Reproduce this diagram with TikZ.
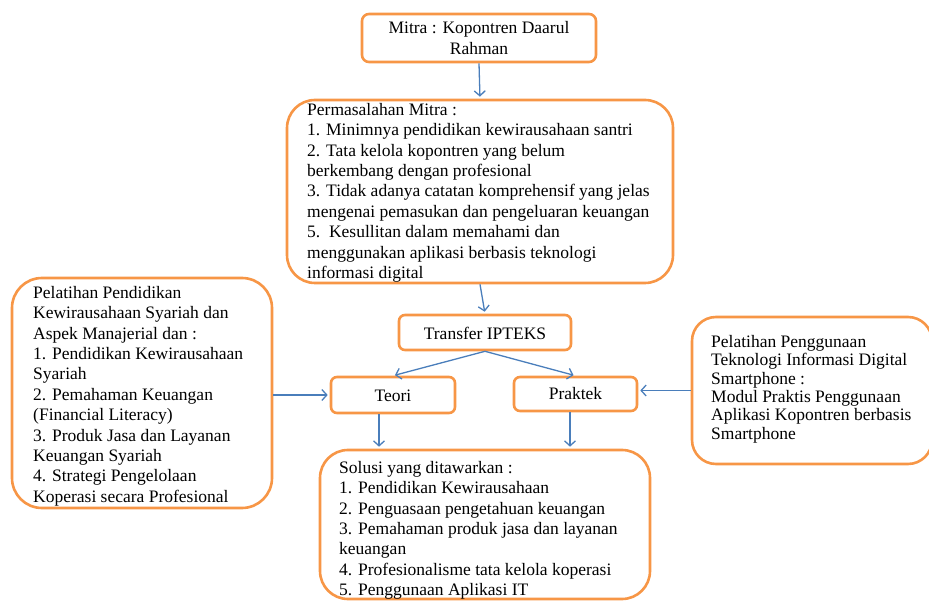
\documentclass[tikz,border=0pt]{standalone}
\usepackage{fontspec}
\setmainfont{Liberation Serif}
\usetikzlibrary{arrows.meta}
\definecolor{boxorange}{RGB}{247,150,70}
\definecolor{arrowblue}{RGB}{74,126,187}
\begin{document}
\begin{tikzpicture}[x=1pt,y=-1pt,
  obox/.style={draw=boxorange, line width=2.6pt, fill=white, inner sep=0pt},
  txt/.style={inner sep=0pt, align=left, anchor=north west, font=\fontsize{17.5}{20.4}\selectfont},
  ctxt/.style={inner sep=0pt, align=center, font=\fontsize{17.5}{20.4}\selectfont},
  arr/.style={draw=arrowblue, line width=1.3pt, -{Straight Barb[length=5pt,width=11pt]}, shorten >=2pt}]
\useasboundingbox (0,0) rectangle (929,601);
% boxes
\node[obox, rounded corners=7pt, minimum width=234pt, minimum height=48pt] (mitra) at (479,38) {};
\node[obox, rounded corners=28pt, minimum width=386pt, minimum height=183pt] (perm) at (480,191.5) {};
\node[obox, rounded corners=6pt, minimum width=172pt, minimum height=35pt] (transfer) at (485,332.5) {};
\node[obox, rounded corners=6pt, minimum width=124pt, minimum height=36pt] (teori) at (393,395) {};
\node[obox, rounded corners=6pt, minimum width=123pt, minimum height=34pt] (praktek) at (575.5,394) {};
\node[obox, rounded corners=28pt, minimum width=330pt, minimum height=149pt] (solusi) at (485,524.5) {};
\node[obox, rounded corners=30pt, minimum width=260pt, minimum height=230pt] (left) at (142,393) {};
\node[obox, rounded corners=24pt, minimum width=240pt, minimum height=147pt] (right) at (812,390.5) {};
% texts
\node[ctxt] (mitratxt) at (479,38) {Mitra : Kopontren Daarul\\Rahman};
\node[txt] (permtxt) at (307,103) {Permasalahan Mitra :\\
1. Minimnya pendidikan kewirausahaan santri\\
2. Tata kelola kopontren yang belum\\
berkembang dengan profesional\\
3. Tidak adanya catatan komprehensif yang jelas\\
mengenai pemasukan dan pengeluaran keuangan\\
5.\ \ Kesullitan dalam memahami\ dan\\
menggunakan aplikasi berbasis teknologi\\
informasi digital};
\node[ctxt] (transfertxt) at (485,333) {Transfer IPTEKS};
\node[ctxt] (teoritxt) at (393,396) {Teori};
\node[ctxt] (praktektxt) at (575.5,394) {Praktek};
\node[txt] (lefttxt) at (33,286) {Pelatihan Pendidikan\\
Kewirausahaan Syariah dan\\
Aspek Manajerial\ dan :\\
1. Pendidikan Kewirausahaan\\
Syariah\\
2. Pemahaman Keuangan\\
(Financial Literacy)\\
3. Produk Jasa dan Layanan\\
Keuangan Syariah\\
4. Strategi Pengelolaan\\
Koperasi secara Profesional};
\node[txt, font=\fontsize{17.5}{18.4}\selectfont] (righttxt) at (711,335) {Pelatihan Penggunaan\\
Teknologi Informasi Digital\\
Smartphone :\\
Modul Praktis Penggunaan\\
Aplikasi Kopontren berbasis\\
Smartphone};
\node[txt] (solusitxt) at (339,461) {Solusi yang ditawarkan :\\
1. Pendidikan Kewirausahaan\\
2. Penguasaan pengetahuan keuangan\\
3. Pemahaman produk jasa dan layanan\\
keuangan\\
4. Profesionalisme tata kelola koperasi\\
5. Penggunaan Aplikasi IT};
% arrows
\draw[arr] (mitra.south) -- (perm.north);
\draw[arr] (perm.south) -- (transfer.north);
\draw[arr] (transfer.south) -- (teori.north);
\draw[arr] (transfer.south) -- (praktek.north);
\draw[arr] ([xshift=-14pt]teori.south) -- ([xshift=-14pt]teori.south |- solusi.north);
\draw[arr] ([xshift=-5.5pt]praktek.south) -- ([xshift=-5.5pt]praktek.south |- solusi.north);
\draw[arr] (left.east |- teori.west) -- (teori.west);
\draw[arr] (right.west) -- (right.west -| praktek.east);
\end{tikzpicture}
\end{document}
